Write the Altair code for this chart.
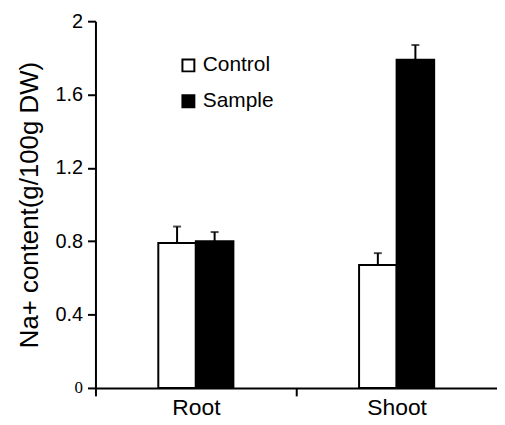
import altair as alt
import pandas as pd

tissues = ["Root", "Shoot"]
groups = ["Control", "Sample"]
control_values = [0.79, 0.67]
sample_values = [0.80, 1.79]
control_errors = [0.09, 0.065]
sample_errors = [0.05, 0.08]
y_ticks = [0, 0.4, 0.8, 1.2, 1.6, 2]

rows = []
for i, t in enumerate(tissues):
    rows.append({"tissue": t, "group": "Control", "value": control_values[i], "err": control_errors[i]})
    rows.append({"tissue": t, "group": "Sample", "value": sample_values[i], "err": sample_errors[i]})
df = pd.DataFrame(rows)
df["upper"] = df["value"] + df["err"]

FONT = "Liberation Sans"
W = 404
STEP = W / 2

x_enc = alt.X(
    "tissue:N", sort=tissues, title=None,
    scale=alt.Scale(paddingInner=0.626, paddingOuter=0.313),
    axis=alt.Axis(labelAngle=0, labelFont=FONT, labelFontSize=23, labelColor="black",
                  labelPadding=1, tickSize=8, tickWidth=2, tickColor="black",
                  tickOffset=-STEP / 2, labelOffset=STEP / 2,
                  domainColor="black", domainWidth=2, grid=False),
)
xo = alt.XOffset("group:N", sort=groups, scale=alt.Scale(paddingInner=0, paddingOuter=0))

y_axis = alt.Axis(
    values=y_ticks, format="~g",
    labelFont={"condition": {"test": "datum.value === 0", "value": "Liberation Serif"}, "value": FONT},
    labelFontSize={"condition": {"test": "datum.value === 0", "value": 17}, "value": 20},
    labelColor="black", labelPadding=5,
    tickSize=8, tickWidth=2, tickColor="black",
    domainColor="black", domainWidth=2, grid=False,
    titleFont=FONT, titleFontSize=26, titleFontWeight="normal", titleColor="black",
    titlePadding=13,
)

base = alt.Chart(df)

bars = base.mark_bar(stroke="black", strokeWidth=2).encode(
    x=x_enc,
    xOffset=xo,
    y=alt.Y("value:Q", title="Na+ content(g/100g DW)",
            scale=alt.Scale(domain=[0, 2], nice=False), axis=y_axis),
    fill=alt.Fill("group:N", sort=groups,
                  scale=alt.Scale(domain=groups, range=["white", "black"]),
                  legend=alt.Legend(title=None, orient="none", legendX=83, legendY=34,
                                    symbolType="square", symbolSize=144,
                                    symbolStrokeColor="black", symbolStrokeWidth=2,
                                    labelFont=FONT, labelFontSize=21, labelColor="black",
                                    rowPadding=14, labelOffset=4)),
)

rules = base.mark_rule(color="black", strokeWidth=2).encode(
    x=x_enc, xOffset=xo, y="value:Q", y2="upper:Q"
)
caps = base.mark_tick(color="black", thickness=2, size=8).encode(
    x=x_enc, xOffset=xo, y="upper:Q"
)

chart = alt.layer(rules, bars, caps).properties(
    width=W, height=369,
    padding={"left": 8, "top": 2, "right": 0, "bottom": 0},
    background="white",
).configure_view(stroke=None)

chart.save("out.html", embed_options={"renderer": "svg", "actions": False})
